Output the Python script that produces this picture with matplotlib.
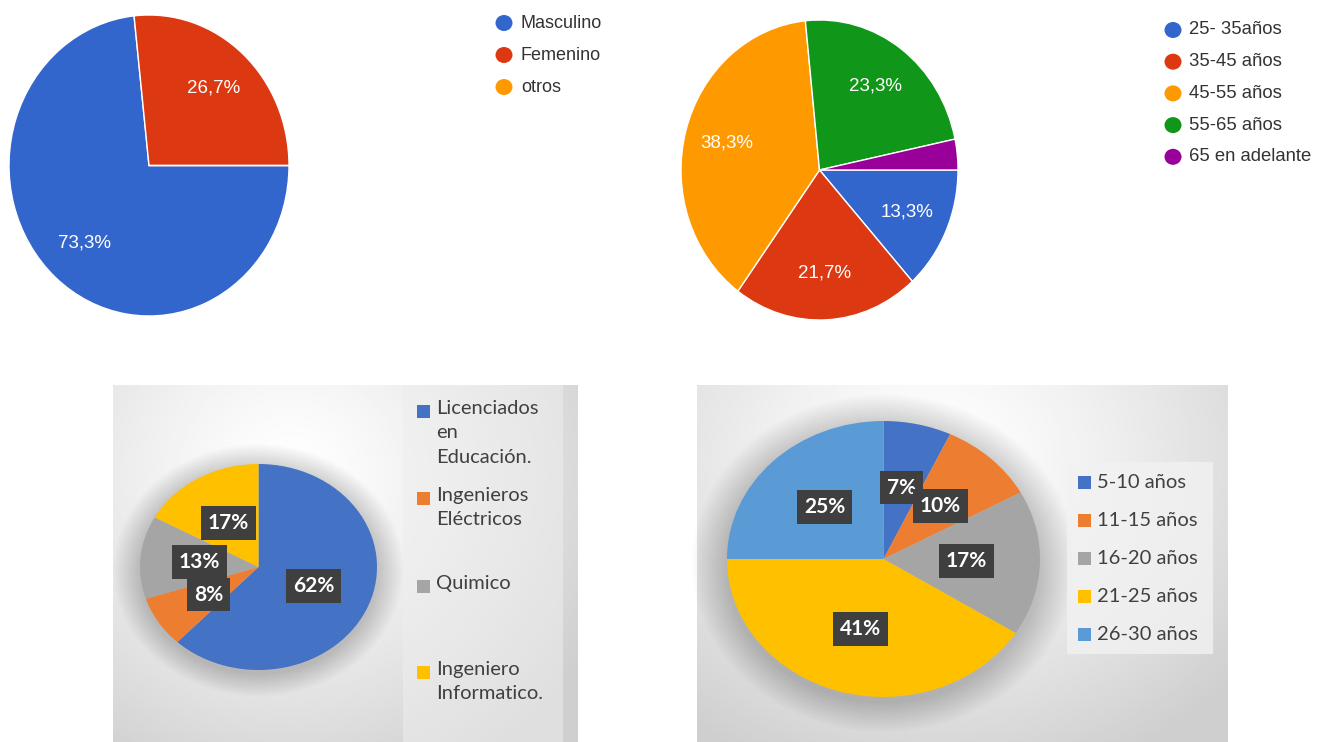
import matplotlib
matplotlib.use("Agg")
import matplotlib.pyplot as plt
from matplotlib.patches import Ellipse, Rectangle
import numpy as np

W, H = 1319, 742
DPI = 100

# top-left: sexo
gender_labels = ["Masculino", "Femenino", "otros"]
gender_values = [73.3, 26.7, 0.0]
gender_colors = ["#3366cc", "#dc3912", "#ff9900"]

# top-right: edad
age_labels = ["25- 35años", "35-45 años", "45-55 años", "55-65 años", "65 en adelante"]
age_values = [13.3, 21.7, 38.3, 23.3, 3.3]
age_colors = ["#3366cc", "#dc3912", "#ff9900", "#109618", "#990099"]

# bottom-left: profesion
prof_labels = ["Licenciados\nen\nEducación.", "Ingenieros\nEléctricos", "Quimico",
               "Ingeniero\nInformatico."]
prof_values = [62, 8, 13, 17]
prof_colors = ["#4472c4", "#ed7d31", "#a5a5a5", "#ffc000"]

# bottom-right: experiencia
exp_labels = ["5-10 años", "11-15 años", "16-20 años", "21-25 años", "26-30 años"]
exp_values = [7, 10, 17, 41, 25]
exp_colors = ["#4472c4", "#ed7d31", "#a5a5a5", "#ffc000", "#5b9bd5"]

GFONT = ["Liberation Sans", "DejaVu Sans"]
OFONT = ["Lato", "DejaVu Sans"]

fig = plt.figure(figsize=(W / DPI, H / DPI), dpi=DPI)
fig.patch.set_facecolor("white")


def px_axes(x0, y0, x1, y1):
    return fig.add_axes([x0 / W, 1 - y1 / H, (x1 - x0) / W, (y1 - y0) / H])


def stretch(ax):
    ax.set_aspect("auto")
    ax.set_xlim(-1, 1)
    ax.set_ylim(-1, 1)
    ax.axis("off")


def panel(x0, y0, x1, y1, cx, cy):
    ax = px_axes(x0, y0, x1, y1)
    yy, xx = np.mgrid[0:1:300j, 0:1:300j]
    d = np.hypot((xx - cx) / 0.75, (yy - cy) / 0.95)
    v = 1.0 - 0.19 * np.clip(d, 0, 1) ** 1.3
    ax.imshow(v, cmap="gray", vmin=0, vmax=1, aspect="auto", interpolation="bilinear")
    ax.axis("off")
    return ax


def google_pct(p):
    return f"{p:.1f}%".replace(".", ",") if p >= 5 else ""


def office_pct(p):
    return f"{p:.0f}%"


def google_pie(box, values, colors):
    ax = px_axes(*box)
    ax.pie(values, colors=colors, startangle=0, counterclock=False,
           autopct=google_pct, pctdistance=0.69,
           wedgeprops=dict(edgecolor="white", linewidth=1),
           textprops=dict(color="white", fontsize=13.5, family=GFONT))
    stretch(ax)
    return ax


def office_pie(box, values, colors, pctd):
    ax = px_axes(*box)
    # soft shadow
    for k in range(16):
        s = 1.0 + 0.014 * (k + 1)
        ax.add_patch(Ellipse((0.0, -0.03), 2 * s, 2 * s, color="black",
                             alpha=0.011, lw=0, clip_on=False))
    _, _, autos = ax.pie(values, colors=colors, startangle=90, counterclock=False,
                         autopct=office_pct, pctdistance=pctd,
                         textprops=dict(color="white", fontsize=15,
                                        fontweight="bold", family=OFONT))
    for t in autos:
        t.set_bbox(dict(facecolor="#3f3f3f", edgecolor="none",
                        boxstyle="square,pad=0.33"))
    stretch(ax)
    return ax


# bottom panels with gradient background
panel(113, 385, 578, 742, 0.38, 0.25)
panel(697, 385, 1228, 742, 0.45, 0.2)

google_pie((9, 15, 289, 316), gender_values, gender_colors)
google_pie((681, 20, 958, 320), age_values, age_colors)
office_pie((140, 464, 377, 670), prof_values, prof_colors, 0.5)
office_pie((727, 421, 1040, 697), exp_values, exp_colors, 0.53)

# overlay in pixel coordinates for legends
ov = px_axes(0, 0, W, H)
ov.set_xlim(0, W)
ov.set_ylim(H, 0)
ov.axis("off")

# legend areas on bottom panels
ov.add_patch(Rectangle((403, 385), 160, 357, facecolor="#eeeeee", edgecolor="none", alpha=0.55))
ov.add_patch(Rectangle((1067, 462), 146, 192, facecolor="#f2f2f2", edgecolor="none", alpha=0.8))

# top-left legend
for i, (lab, col) in enumerate(zip(gender_labels, gender_colors)):
    y = 23 + i * 32
    ov.add_patch(Ellipse((504, y), 17, 16, color=col, lw=0))
    ov.text(521, y, lab, fontsize=13, color="#333333", va="center", family=GFONT)

# top-right legend
for i, (lab, col) in enumerate(zip(age_labels, age_colors)):
    y = 30 + i * 31.7
    ov.add_patch(Ellipse((1173, y), 17, 16, color=col, lw=0))
    ov.text(1189, y, lab, fontsize=13.3, color="#333333", va="center", family=GFONT)

# bottom-left legend
prof_y = [411, 498, 586, 672]
for lab, col, y in zip(prof_labels, prof_colors, prof_y):
    ov.add_patch(Rectangle((417, y - 6.5), 13, 13, color=col, lw=0))
    ov.text(436, y - 11, lab, fontsize=14.5, color="#404040", va="top",
            linespacing=1.52, family=OFONT)

# bottom-right legend
for i, (lab, col) in enumerate(zip(exp_labels, exp_colors)):
    y = 482.5 + i * 38
    ov.add_patch(Rectangle((1078, y - 6.5), 13, 13, color=col, lw=0))
    ov.text(1097, y, lab, fontsize=14.5, color="#404040", va="center", family=OFONT)

fig.savefig("out.png", dpi=DPI, facecolor="white")
